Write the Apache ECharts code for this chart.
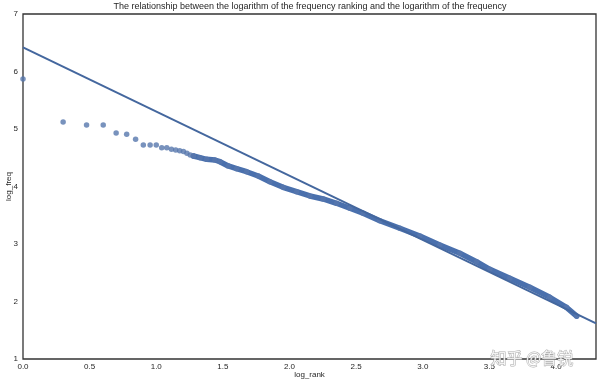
<!DOCTYPE html>
<html>
<head>
<meta charset="utf-8">
<script src="https://cdn.jsdelivr.net/npm/echarts@6/dist/echarts.min.js"></script>
<style>html,body{margin:0;padding:0;background:#fff}#c{width:600px;height:384px}</style>
</head>
<body>
<div id="c"></div>
<script>
// Individually visible points (log_rank, log_freq)
const pointX = [0, 0.301, 0.477, 0.602, 0.699, 0.778, 0.845, 0.903, 0.954, 1.000, 1.041, 1.079, 1.114, 1.146, 1.176, 1.204, 1.230, 1.255, 1.279];
const pointY = [5.87, 5.12, 5.07, 5.07, 4.93, 4.91, 4.82, 4.72, 4.72, 4.72, 4.675, 4.675, 4.65, 4.635, 4.62, 4.61, 4.58, 4.55, 4.53];
// Dense band of points
const bandX = [1.279, 1.328, 1.378, 1.440, 1.478, 1.540, 1.603, 1.678, 1.765, 1.853, 1.952, 2.053, 2.153, 2.252, 2.353, 2.453, 2.552, 2.678, 2.828, 2.978, 3.128, 3.278, 3.403, 3.503, 3.653, 3.803, 3.953, 4.078, 4.155];
const bandY = [4.53, 4.501, 4.473, 4.461, 4.431, 4.357, 4.310, 4.257, 4.183, 4.083, 3.986, 3.910, 3.835, 3.783, 3.708, 3.621, 3.534, 3.405, 3.273, 3.139, 2.983, 2.838, 2.692, 2.560, 2.403, 2.247, 2.073, 1.899, 1.745];
// Fitted regression line
const regX = [0, 4.3];
const regY = [6.42, 1.62];

const title = 'The relationship between the logarithm of the frequency ranking and the logarithm of the frequency';
const zip = (a, b) => a.map((v, i) => [v, b[i]]);
const font = 'Liberation Sans, Arial, sans-serif';

const chart = echarts.init(document.getElementById('c'), null, {renderer: 'canvas'});
chart.setOption({
  animation: false,
  title: {text: title, left: 310, top: 2, padding: 0, textAlign: 'center',
    textStyle: {fontFamily: font, fontSize: 9, fontWeight: 'normal', color: '#262626'}},
  grid: {left: 23, right: 4, top: 14, bottom: 25, containLabel: false, outerBoundsMode: 'none',
    show: true, borderColor: '#333', borderWidth: 1.3, backgroundColor: 'transparent'},
  xAxis: {type: 'value', min: 0, max: 4.3, interval: 0.5,
    name: 'log_rank', nameLocation: 'middle', nameGap: 12, nameMoveOverlap: false,
    nameTextStyle: {fontFamily: font, fontSize: 8, color: '#262626'},
    axisLine: {show: false}, axisTick: {show: false}, splitLine: {show: false},
    axisLabel: {fontFamily: font, fontSize: 8, color: '#262626', margin: 4,
      formatter: v => (v > 4.25 ? '' : v.toFixed(1))}},
  yAxis: {type: 'value', min: 1, max: 7, interval: 1,
    name: 'log_freq', nameLocation: 'middle', nameGap: 10, nameMoveOverlap: false,
    nameTextStyle: {fontFamily: font, fontSize: 8, color: '#262626'},
    axisLine: {show: false}, axisTick: {show: false}, splitLine: {show: false},
    axisLabel: {fontFamily: font, fontSize: 8, color: '#262626', margin: 5}},
  series: [
    {type: 'line', data: zip(bandX, bandY), showSymbol: false, symbol: 'none',
      lineStyle: {color: '#4a70ad', width: 5.5, cap: 'round', join: 'round'}, z: 2, silent: true},
    {type: 'scatter', data: zip(pointX, pointY).concat(zip(bandX, bandY)), symbolSize: 5.5,
      itemStyle: {color: '#5677ad'}, z: 3},
    {type: 'line', data: zip(regX, regY), showSymbol: false, symbol: 'none',
      lineStyle: {color: '#44679e', width: 2}, z: 4, clip: true}
  ],
  graphic: [{type: 'text', left: 490, top: 349, z: 10,
    style: {text: '知乎 @鲁锐', font: '16px "Noto Sans CJK SC"', fill: 'rgba(255,255,255,0.85)', stroke: 'rgba(150,150,150,0.8)', lineWidth: 1}}]
});
</script>
</body>
</html>
